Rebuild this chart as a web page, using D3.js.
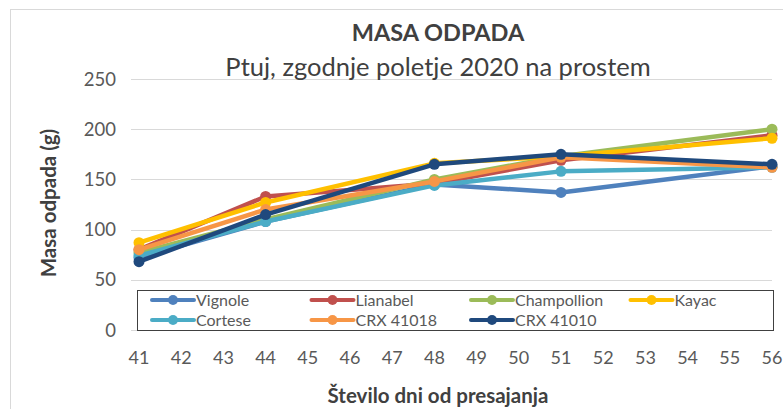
<!DOCTYPE html>
<html>
<head>
<meta charset="utf-8">
<script src="https://cdn.jsdelivr.net/npm/d3@7"></script>
<style>
  body { margin: 0; background: #fff; }
  text { font-family: Lato, "Open Sans", sans-serif; }
</style>
</head>
<body>
<svg id="chart" width="783" height="409"></svg>
<script>
// days after transplanting
const days = [41, 44, 48, 51, 56]

const vignole = [72, 108, 145, 137, 163]
const lianabel = [80, 133, 146, 169, 194]
const champollion = [77, 110, 150, 173, 200]
const kayac = [87, 127, 166, 173, 191]
const cortese = [74, 108, 144, 158, 162]
const crx41018 = [80, 120, 148, 172, 162]
const crx41010 = [68, 115, 165, 175, 165]

const seriesNames = ['Vignole', 'Lianabel', 'Champollion', 'Kayac', 'Cortese', 'CRX 41018', 'CRX 41010']
const seriesValues = [vignole, lianabel, champollion, kayac, cortese, crx41018, crx41010]
const colors = ['#4f81bd', '#c0504d', '#9bbb59', '#ffc000', '#4bacc6', '#f79646', '#1f497d']

const xTicks = d3.range(41, 57)
const yTicks = [0, 50, 100, 150, 200, 250]

const svg = d3.select('#chart')

// outer chart border
svg.append('rect')
  .attr('x', 10.5).attr('y', 9.5)
  .attr('width', 820).attr('height', 430)
  .attr('fill', '#fff')
  .attr('stroke', '#d9d9d9')

const x = d3.scaleLinear().domain([41, 56]).range([139, 772])
const y = d3.scaleLinear().domain([0, 250]).range([330, 79])

// gridlines
svg.append('g')
  .selectAll('line')
  .data(yTicks)
  .enter()
  .append('line')
  .attr('x1', x(41) - 8)
  .attr('x2', x(56))
  .attr('y1', (d) => Math.round(y(d)) + 0.5)
  .attr('y2', (d) => Math.round(y(d)) + 0.5)
  .attr('stroke', '#d9d9d9')
  .attr('stroke-width', 1)

// y tick labels
svg.append('g')
  .selectAll('text')
  .data(yTicks)
  .enter()
  .append('text')
  .attr('x', 116)
  .attr('y', (d) => y(d) + 6.5)
  .attr('text-anchor', 'end')
  .style('font-size', '18.5px')
  .style('fill', '#595959')
  .text((d) => d)

// x tick labels
svg.append('g')
  .selectAll('text')
  .data(xTicks)
  .enter()
  .append('text')
  .attr('x', (d) => x(d))
  .attr('y', 364)
  .attr('text-anchor', 'middle')
  .style('font-size', '18px')
  .style('fill', '#595959')
  .text((d) => d)

// lines + markers
const line = d3.line()
  .x((d, i) => x(days[i]))
  .y((d) => y(d))

seriesValues.forEach((vals, s) => {
  svg.append('path')
    .datum(vals)
    .attr('d', line)
    .attr('stroke', colors[s])
    .style('stroke-width', 4.5)
    .style('stroke-linejoin', 'round')
    .style('fill', 'none')

  svg.append('g')
    .selectAll('circle')
    .data(vals)
    .enter()
    .append('circle')
    .attr('cx', (d, i) => x(days[i]))
    .attr('cy', (d) => y(d))
    .attr('r', 5.5)
    .attr('fill', colors[s])
})

// legend
const legend = svg.append('g')
legend.append('rect')
  .attr('x', 137.5).attr('y', 290.5)
  .attr('width', 636).attr('height', 40)
  .attr('fill', '#fff')
  .attr('stroke', '#404040')
  .attr('stroke-width', 1)

const legItems = legend.selectAll('.leg')
  .data(seriesNames)
  .enter()
  .append('g')
  .attr('class', 'leg')
  .attr('transform', (d, i) => 'translate(' + (152 + (i % 4) * 159.5) + ',' + (300 + Math.floor(i / 4) * 20) + ')')

legItems.append('line')
  .attr('x1', 0).attr('x2', 42)
  .attr('y1', 0).attr('y2', 0)
  .attr('stroke', (d, i) => colors[i])
  .style('stroke-width', 4)
  .style('stroke-linecap', 'round')

legItems.append('circle')
  .attr('cx', 21).attr('cy', 0)
  .attr('r', 5)
  .attr('fill', (d, i) => colors[i])

legItems.append('text')
  .attr('x', 44)
  .attr('y', 5.5)
  .style('font-size', '16px')
  .style('fill', '#595959')
  .text((d) => d)

// titles
svg.append('text')
  .attr('x', 438).attr('y', 41)
  .attr('text-anchor', 'middle')
  .style('font-size', '23.5px')
  .style('font-weight', 'bold')
  .style('fill', '#404040')
  .text('MASA ODPADA')

svg.append('text')
  .attr('x', 438).attr('y', 76)
  .attr('text-anchor', 'middle')
  .style('font-size', '25.5px')
  .style('fill', '#404040')
  .text('Ptuj, zgodnje poletje 2020 na prostem')

svg.append('text')
  .attr('transform', 'translate(56,203) rotate(-90)')
  .attr('text-anchor', 'middle')
  .style('font-size', '20.5px')
  .style('font-weight', 'bold')
  .style('fill', '#404040')
  .text('Masa odpada (g)')

svg.append('text')
  .attr('x', 438).attr('y', 403)
  .attr('text-anchor', 'middle')
  .style('font-size', '20.5px')
  .style('font-weight', 'bold')
  .style('fill', '#404040')
  .text('Število dni od presajanja')
</script>
</body>
</html>
